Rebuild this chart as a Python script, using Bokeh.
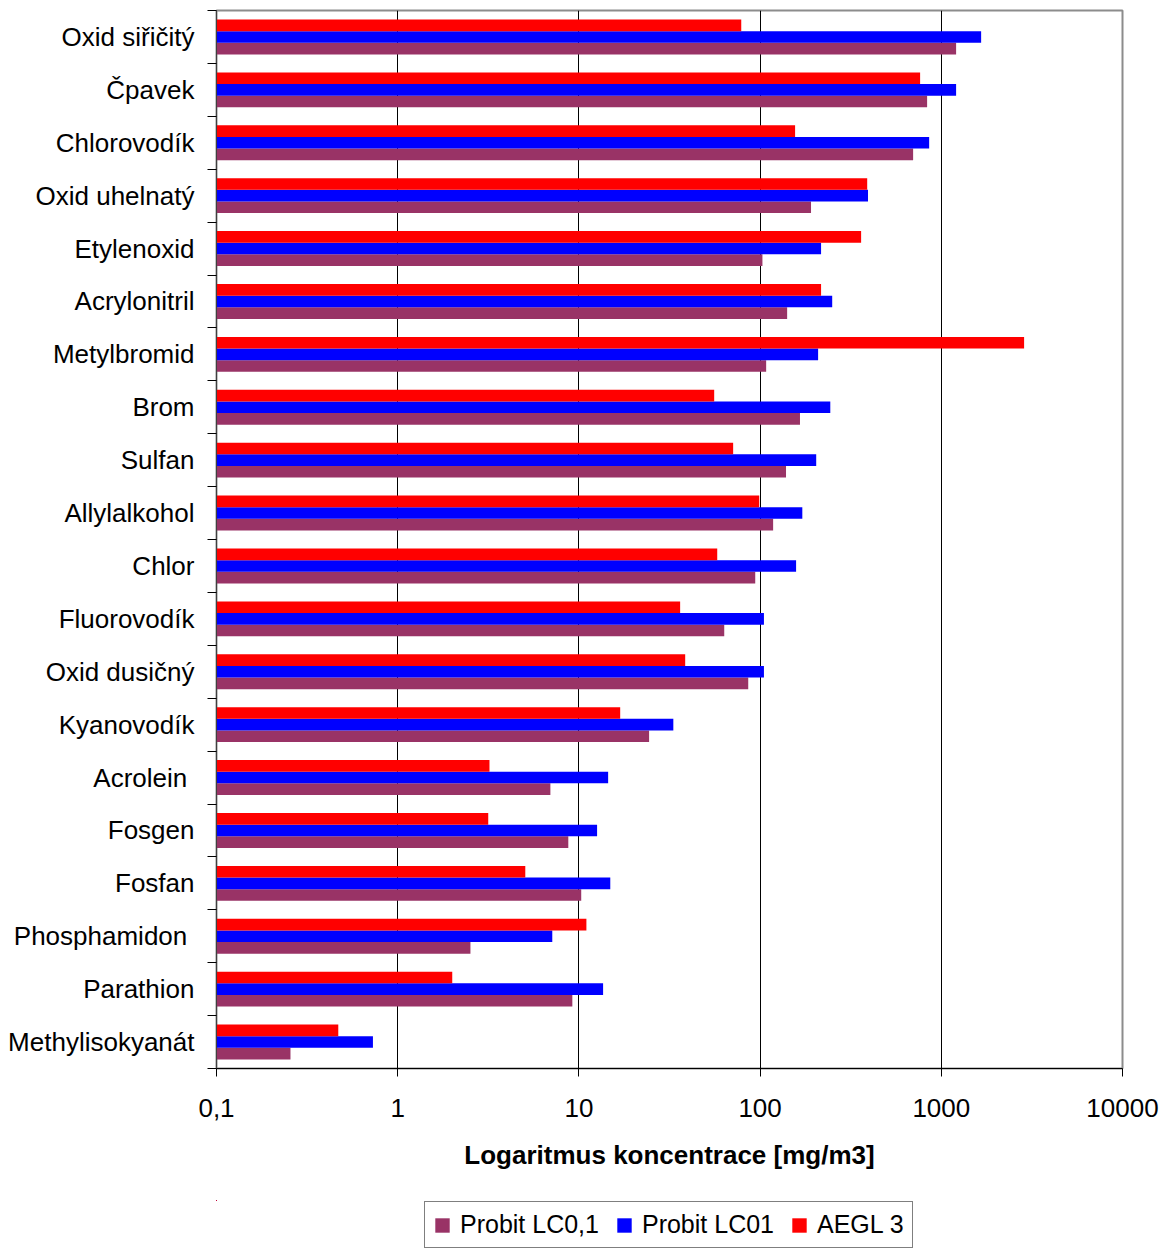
from bokeh.plotting import figure
from bokeh.layouts import column
from bokeh.models import (Range1d, FixedTicker, CustomJSTickFormatter, Legend,
                          LegendItem, ColumnDataSource)
from bokeh.embed import file_html
from bokeh.resources import INLINE

categories = ["Oxid siřičitý", "Čpavek", "Chlorovodík", "Oxid uhelnatý", "Etylenoxid",
              "Acrylonitril", "Metylbromid", "Brom", "Sulfan", "Allylalkohol", "Chlor",
              "Fluorovodík", "Oxid dusičný", "Kyanovodík", "Acrolein ", "Fosgen", "Fosfan",
              "Phosphamidon ", "Parathion", "Methylisokyanát"]
probit_lc0_1 = [1207, 835, 699, 191, 103, 141, 108, 166, 139, 118, 94, 63.4, 86, 24.4,
                6.96, 8.74, 10.3, 2.52, 9.2, 0.256]
probit_lc01 = [1659, 1207, 857, 394, 217, 250, 209, 244, 204, 171, 158, 105, 105, 33.2,
               14.5, 12.6, 14.9, 7.13, 13.6, 0.73]
aegl_3 = [78.7, 764, 156, 390, 361, 217, 2864, 55.8, 71, 98.9, 58, 36.2, 38.6, 16.9,
          3.21, 3.16, 5.06, 11.0, 2.0, 0.47]
series_names = ["Probit LC0,1", "Probit LC01", "AEGL 3"]
series_colors = ["#993366", "#0000FF", "#FF0000"]
x_tick_values = [0.1, 1, 10, 100, 1000, 10000]
x_tick_labels = ["0,1", "1", "10", "100", "1000", "10000"]
x_title = "Logaritmus koncentrace [mg/m3]"

FONT = "Liberation Sans"
n = len(categories)
centers = [n - i - 0.5 for i in range(n)]
bar_h = 0.22

p = figure(width=1168, height=1200, x_axis_type="log",
           x_range=Range1d(x_tick_values[0], x_tick_values[-1]), y_range=Range1d(0, n),
           output_backend="svg", toolbar_location=None,
           min_border_left=216, min_border_right=46, min_border_top=10, min_border_bottom=132)
p.background_fill_color = "white"
p.border_fill_color = "white"
p.outline_line_color = "#8c8c8c"
p.outline_line_width = 2

offsets = [-bar_h, 0.0, bar_h]
sources = []
for vals, off, col in zip([probit_lc0_1, probit_lc01, aegl_3], offsets, series_colors):
    src = ColumnDataSource(dict(y=[c + off for c in centers], right=vals,
                                left=[x_tick_values[0]] * n))
    sources.append(src)
    p.hbar(y="y", left="left", right="right", height=bar_h, source=src,
           fill_color=col, line_color=None)

# grid
p.ygrid.visible = False
p.xgrid.ticker = FixedTicker(ticks=x_tick_values[1:-1])
p.xgrid.grid_line_color = "#000000"
p.xgrid.grid_line_width = 1

# x axis
xa = p.xaxis[0]
xa.ticker = FixedTicker(ticks=x_tick_values)
xa.formatter = CustomJSTickFormatter(args=dict(vals=x_tick_values, labs=x_tick_labels), code="""
let best = 0, bd = Infinity;
for (let i = 0; i < vals.length; i++) {
  const d = Math.abs(Math.log10(vals[i]) - Math.log10(tick));
  if (d < bd) { bd = d; best = i; }
}
return labs[best];
""")
xa.major_tick_out = 8
xa.major_tick_in = 0
xa.minor_tick_line_color = None
xa.axis_line_color = "#000000"
xa.major_tick_line_color = "#000000"
xa.major_label_text_font = FONT
xa.major_label_text_font_size = "26px"
xa.major_label_text_color = "#000000"
xa.major_label_standoff = 22
xa.axis_label = x_title
xa.axis_label_text_font = FONT
xa.axis_label_text_font_size = "26px"
xa.axis_label_text_font_style = "bold"
xa.axis_label_text_color = "#000000"
xa.axis_label_standoff = 20

# y axis
ya = p.yaxis[0]
ya.ticker = FixedTicker(ticks=centers, minor_ticks=list(range(n + 1)))
ya.formatter = CustomJSTickFormatter(args=dict(labs=categories[::-1]),
                                     code="return labs[Math.round(tick - 0.5)];")
ya.major_tick_out = 0
ya.major_tick_in = 0
ya.major_tick_line_color = None
ya.minor_tick_out = 9
ya.minor_tick_in = 0
ya.minor_tick_line_color = "#000000"
ya.axis_line_color = "#404040"
ya.major_label_standoff = 13
ya.major_label_text_font = FONT
ya.major_label_text_font_size = "26px"
ya.major_label_text_color = "#000000"

# legend strip below the chart (same series, whose bars fall outside its visible ranges)
lf = figure(width=1168, height=48, x_range=Range1d(1e6, 1e7), y_range=Range1d(-3, -2),
            x_axis_type="log", output_backend="svg", toolbar_location=None,
            x_axis_location=None, y_axis_location=None, min_border=0)
lf.outline_line_color = None
lf.grid.visible = False
lf.background_fill_color = "white"
lf.border_fill_color = "white"
swatches = []
for src, col in zip(sources, series_colors):
    swatches.append(lf.hbar(y="y", left="left", right="right", height=bar_h, source=src,
                            fill_color=col, line_color=None))
legend = Legend(items=[LegendItem(label=nm, renderers=[r]) for nm, r in zip(series_names, swatches)],
                orientation="horizontal", location=(208, 0), margin=0,
                padding=8, spacing=16, label_standoff=9, glyph_width=18, glyph_height=18,
                border_line_color="#000000", border_line_width=1,
                background_fill_color="white", background_fill_alpha=1.0,
                label_text_font=FONT, label_text_font_size="25px", label_text_color="#000000")
lf.add_layout(legend)

layout = column(p, lf, spacing=0)
open("out.html", "w").write(file_html(layout, INLINE))
